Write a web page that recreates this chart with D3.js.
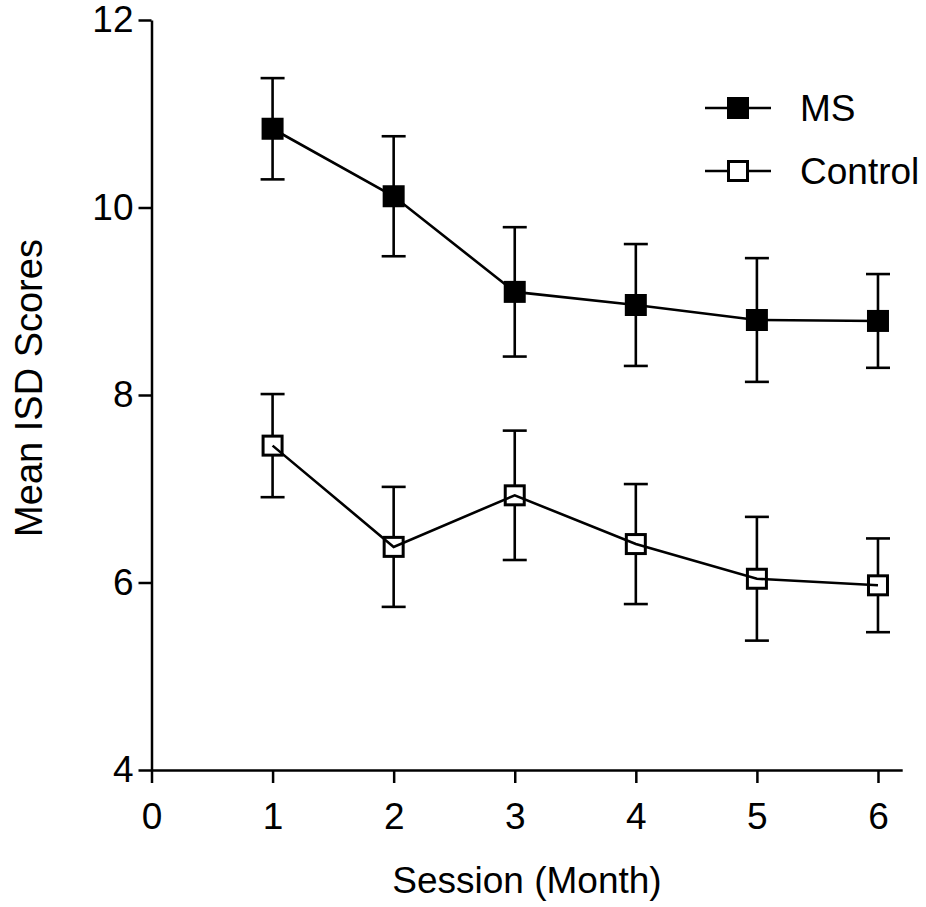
<!DOCTYPE html>
<html>
<head>
<meta charset="utf-8">
<script src="https://cdn.jsdelivr.net/npm/d3@7"></script>
<style>
  body { margin: 0; background: #fff; }
  svg text { font-family: "Liberation Sans", Arial, Helvetica, sans-serif; fill: #000; }
</style>
</head>
<body>
<svg id="chart" width="926" height="907"></svg>
<script>
const sessions = [1, 2, 3, 4, 5, 6];
const msMean = [10.84, 10.12, 9.10, 8.96, 8.80, 8.79];
const msErr = [0.54, 0.64, 0.69, 0.65, 0.66, 0.50];
const controlMean = [7.46, 6.38, 6.93, 6.41, 6.04, 5.97];
const controlErr = [0.55, 0.64, 0.69, 0.64, 0.66, 0.50];
const xTicks = [0, 1, 2, 3, 4, 5, 6];
const yTicks = [4, 6, 8, 10, 12];
const seriesNames = ["MS", "Control"];

const svg = d3.select("#chart");
const x = d3.scaleLinear().domain([0, 6.2]).range([151.5, 902.2]);
const y = d3.scaleLinear().domain([4, 12]).range([770, 20]);

const series = [
  { name: seriesNames[0], mean: msMean, err: msErr, fill: "#000" },
  { name: seriesNames[1], mean: controlMean, err: controlErr, fill: "#fff" }
];

// axes
const xAxis = d3.axisBottom(x).tickValues(xTicks).tickFormat(d3.format("d")).tickSize(13).tickPadding(20).tickSizeOuter(0);
const yAxis = d3.axisLeft(y).tickValues(yTicks).tickFormat(d3.format("d")).tickSize(13).tickPadding(5).tickSizeOuter(0);

const gx = svg.append("g").attr("transform", "translate(0,770)").call(xAxis);
const gy = svg.append("g").attr("transform", "translate(151.5,0)").call(yAxis);
[gx, gy].forEach(g => {
  g.selectAll("path.domain").attr("stroke", "#000").attr("stroke-width", 2.5);
  g.selectAll(".tick line").attr("stroke", "#000").attr("stroke-width", 2.5);
  g.selectAll(".tick text").attr("font-size", 37).attr("font-family", "Liberation Sans, Arial, sans-serif").attr("fill", "#000");
});

// axis titles
svg.append("text")
  .attr("x", 527).attr("y", 893)
  .attr("text-anchor", "middle")
  .attr("font-size", 37)
  .text("Session (Month)");
svg.append("text")
  .attr("transform", "translate(42,388) rotate(-90)")
  .attr("text-anchor", "middle")
  .attr("font-size", 38)
  .text("Mean ISD Scores");

const line = d3.line().x((d, i) => x(sessions[i])).y(d => y(d));
const sq = 19;
const cap = 12;

series.forEach(s => {
  const g = svg.append("g");
  // error bars
  const eb = g.selectAll("g.eb").data(s.mean).enter().append("g");
  eb.append("line")
    .attr("x1", (d, i) => x(sessions[i])).attr("x2", (d, i) => x(sessions[i]))
    .attr("y1", (d, i) => y(d + s.err[i])).attr("y2", (d, i) => y(d - s.err[i]))
    .attr("stroke", "#000").attr("stroke-width", 2.6);
  eb.append("line")
    .attr("x1", (d, i) => x(sessions[i]) - cap).attr("x2", (d, i) => x(sessions[i]) + cap)
    .attr("y1", (d, i) => y(d + s.err[i])).attr("y2", (d, i) => y(d + s.err[i]))
    .attr("stroke", "#000").attr("stroke-width", 2.6);
  eb.append("line")
    .attr("x1", (d, i) => x(sessions[i]) - cap).attr("x2", (d, i) => x(sessions[i]) + cap)
    .attr("y1", (d, i) => y(d - s.err[i])).attr("y2", (d, i) => y(d - s.err[i]))
    .attr("stroke", "#000").attr("stroke-width", 2.6);
  // markers
  g.selectAll("rect").data(s.mean).enter().append("rect")
    .attr("x", (d, i) => x(sessions[i]) - sq / 2)
    .attr("y", d => y(d) - sq / 2)
    .attr("width", sq).attr("height", sq)
    .attr("fill", s.fill).attr("stroke", "#000").attr("stroke-width", 3);
  // connecting line
  g.append("path").datum(s.mean)
    .attr("d", line)
    .attr("fill", "none").attr("stroke", "#000").attr("stroke-width", 2.6);
});

// legend
const legendY = [108, 171];
series.forEach((s, i) => {
  const ly = legendY[i];
  svg.append("line").attr("x1", 705).attr("x2", 771).attr("y1", ly).attr("y2", ly)
    .attr("stroke", "#000").attr("stroke-width", 2.6);
  svg.append("rect").attr("x", 738 - sq / 2).attr("y", ly - sq / 2)
    .attr("width", sq).attr("height", sq)
    .attr("fill", s.fill).attr("stroke", "#000").attr("stroke-width", 3);
  svg.append("text").attr("x", 800).attr("y", ly + 13)
    .attr("font-size", 37).text(s.name);
});
</script>
</body>
</html>
